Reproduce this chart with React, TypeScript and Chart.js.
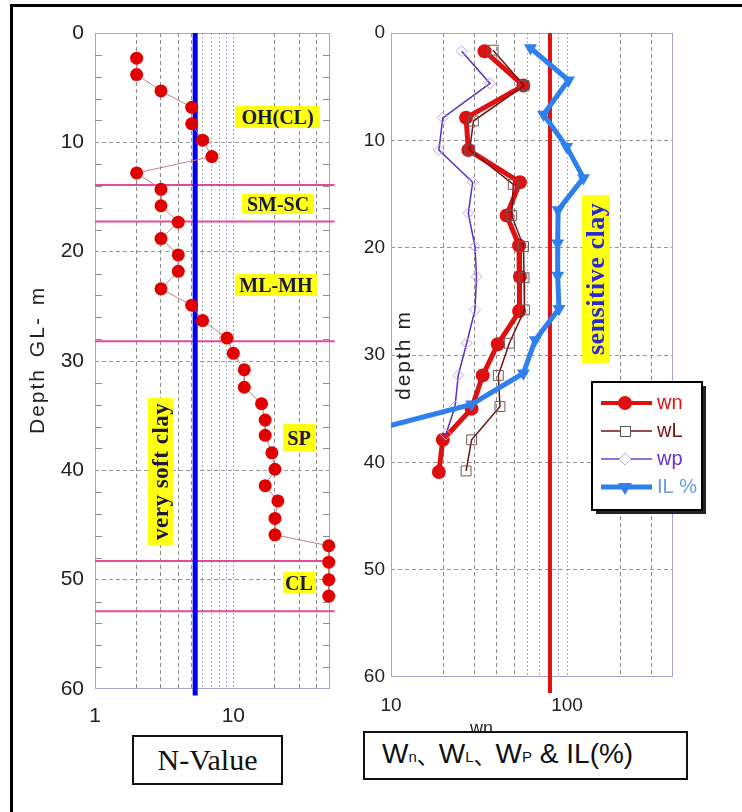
import React, { useEffect, useRef } from 'react';
import { Chart, registerables } from 'chart.js';

Chart.register(...registerables);

// ---------- Left chart: N-Value ----------
const nDepth = [2.3, 3.8, 5.3, 6.8, 8.3, 9.8, 11.3, 12.8, 14.3, 15.8, 17.3, 18.8, 20.3, 21.8, 23.4, 24.9, 26.3, 27.9, 29.3, 30.8, 32.4, 33.9, 35.4, 36.8, 38.4, 39.9, 41.4, 42.8, 44.4, 45.9, 46.9, 48.4, 50.0, 51.5];
const nValue = [2, 2, 3, 5, 5, 6, 7, 2, 3, 3, 4, 3, 4, 4, 3, 5, 6, 9, 10, 12, 12, 16, 17, 17, 19, 20, 17, 21, 20, 20, 49, 49, 49, 49];
const nLimit = 5.3;
const layerBoundaries = [13.9, 17.25, 28.2, 48.3, 52.9];
const boundaryExtent = [1, 54];
const nTicks = [1, 2, 3, 4, 5, 6, 7, 8, 9, 10, 20, 30, 40, 50];
const nTickLabels = [1, 10];
const nLightTicks = [6, 7, 8, 9, 10];
const depthMinorTicks = [2, 4, 6, 8, 12, 14, 16, 18, 22, 24, 26, 28, 32, 34, 36, 38, 42, 44, 46, 48, 52, 54, 56, 58];

// ---------- Right chart: Wn, WL, WP, IL ----------
const wnDepth = [1.7, 4.9, 7.9, 10.9, 13.9, 17.0, 19.8, 22.7, 25.9, 29.0, 31.9, 35.0, 37.9, 40.9];
const wnValue = [34, 56.5, 26.7, 27.5, 54, 45.4, 53.4, 54, 53.4, 40.4, 33.2, 28.7, 19.7, 18.7];
const wLDepth = [1.6, 4.9, 8.2, 10.9, 14.1, 17.0, 19.9, 22.8, 25.8, 28.9, 31.9, 34.8, 37.9, 40.8];
const wLValue = [38, 57, 29.4, 28, 49.5, 48.5, 56.6, 57, 57.3, 47, 40.7, 41.6, 28.7, 26.7];
const wpDepth = [1.7, 4.7, 7.9, 10.9, 13.9, 16.8, 19.9, 22.7, 25.8, 28.9, 31.9, 34.8, 37.4];
const wpValue = [25.2, 36.5, 19.7, 18.7, 29.1, 27.5, 30, 30.6, 30, 26.9, 24.1, 23.1, 20.5];
const ilDepth = [1.4, 4.4, 7.6, 10.6, 13.5, 16.5, 19.6, 22.6, 25.7, 28.6, 31.7, 34.6, 37.7];
const ilValue = [62, 102, 73.5, 99.5, 124, 89, 88.5, 88.5, 90, 66, 56.5, 28.7, 5.4];
const wLimit = 80;
const wTicks = [10, 20, 30, 40, 50, 60, 70, 80, 90, 100, 200, 300, 400];
const wTickLabels = [10, 100];
const wLightTicks = [60, 70, 80, 90, 100];
const legendLabels = ['wn', 'wL', 'wp', 'IL %'];

const SANS = '"Liberation Sans", Arial, sans-serif';
const SERIF = '"Liberation Serif", "Times New Roman", serif';

const pts = (xs: number[], ys: number[]) => ys.map((y, i) => ({ x: xs[i], y }));

function framePlugin(minor: number[] | null) {
  return {
    id: 'frame',
    beforeDatasetsDraw(chart: any) {
      const { ctx, chartArea: a, scales } = chart;
      ctx.save();
      ctx.strokeStyle = '#a4a4cc';
      ctx.lineWidth = 1;
      ctx.strokeRect(a.left + 0.5, a.top + 0.5, a.right - a.left - 1, a.bottom - a.top - 1);
      if (minor) {
        ctx.strokeStyle = '#8a8a9a';
        minor.forEach((d) => {
          const y = Math.round(scales.y.getPixelForValue(d)) + 0.5;
          ctx.beginPath();
          ctx.moveTo(a.left, y);
          ctx.lineTo(a.left + 7, y);
          ctx.moveTo(a.right - 7, y);
          ctx.lineTo(a.right, y);
          ctx.stroke();
        });
      }
      ctx.restore();
    },
  };
}

const legendPlugin = {
  id: 'customLegend',
  afterDraw(chart: any) {
    const { ctx } = chart;
    const bx = 232, by = 382, bw = 110, bh = 128;
    ctx.save();
    ctx.fillStyle = '#222';
    ctx.fillRect(bx + 4, by + 4, bw, bh);
    ctx.fillStyle = '#fff';
    ctx.fillRect(bx, by, bw, bh);
    ctx.strokeStyle = '#000';
    ctx.lineWidth = 2;
    ctx.strokeRect(bx, by, bw, bh);
    const rows = [403, 431, 459, 487];
    const x0 = 241, x1 = 292, mx = 265, tx = 297;
    const styles = [
      { line: '#dd1111', lw: 4, text: '#dd1111' },
      { line: '#7a1010', lw: 1.5, text: '#7a1010' },
      { line: '#6a40d0', lw: 1.5, text: '#6a30d0' },
      { line: '#2f80ed', lw: 5, text: '#6a9ae6' },
    ];
    rows.forEach((y, i) => {
      const s = styles[i];
      ctx.strokeStyle = s.line;
      ctx.lineWidth = s.lw;
      ctx.beginPath();
      ctx.moveTo(x0, y);
      ctx.lineTo(x1, y);
      ctx.stroke();
      ctx.lineWidth = 1;
      if (i === 0) {
        ctx.fillStyle = '#dd1111';
        ctx.beginPath();
        ctx.arc(mx, y, 7, 0, Math.PI * 2);
        ctx.fill();
      } else if (i === 1) {
        ctx.fillStyle = '#fff';
        ctx.fillRect(mx - 5, y - 5, 10, 10);
        ctx.strokeStyle = '#555';
        ctx.strokeRect(mx - 5 + 0.5, y - 5 + 0.5, 10, 10);
      } else if (i === 2) {
        ctx.fillStyle = '#fff';
        ctx.strokeStyle = '#b8a8ee';
        ctx.beginPath();
        ctx.moveTo(mx, y - 6);
        ctx.lineTo(mx + 6, y);
        ctx.lineTo(mx, y + 6);
        ctx.lineTo(mx - 6, y);
        ctx.closePath();
        ctx.fill();
        ctx.stroke();
      } else {
        ctx.fillStyle = '#2f80ed';
        ctx.beginPath();
        ctx.moveTo(mx - 7, y - 4);
        ctx.lineTo(mx + 7, y - 4);
        ctx.lineTo(mx, y + 8);
        ctx.closePath();
        ctx.fill();
      }
      ctx.fillStyle = s.text;
      ctx.font = `20px ${SANS}`;
      ctx.textBaseline = 'middle';
      ctx.textAlign = 'left';
      ctx.fillText(legendLabels[i], tx, y);
    });
    ctx.restore();
  },
};

function leftConfig(): any {
  return {
    type: 'scatter',
    data: {
      datasets: [
        {
          label: 'N-Value',
          data: pts(nValue, nDepth),
          showLine: true,
          borderColor: '#c98080',
          borderWidth: 1,
          pointRadius: 6.5,
          pointBackgroundColor: '#e00000',
          pointBorderColor: '#e00000',
          pointBorderWidth: 0,
          clip: false,
          order: 0,
        },
        {
          label: 'limit',
          data: [{ x: nLimit, y: 0 }, { x: nLimit, y: 60.6 }],
          showLine: true,
          borderColor: '#0000ee',
          borderWidth: 5,
          pointRadius: 0,
          clip: false,
          order: 1,
        },
        ...layerBoundaries.map((d) => ({
          label: 'boundary',
          data: [{ x: boundaryExtent[0], y: d }, { x: boundaryExtent[1], y: d }],
          showLine: true,
          borderColor: '#e6489a',
          borderWidth: 2,
          pointRadius: 0,
          clip: false,
          order: 2,
        })),
      ],
    },
    options: {
      responsive: false,
      animation: false,
      events: [],
      layout: { padding: { top: 33, right: 30, left: 0, bottom: 0 } },
      plugins: { legend: { display: false }, tooltip: { enabled: false } },
      scales: {
        x: {
          type: 'logarithmic',
          min: 1,
          max: 50,
          afterBuildTicks: (s: any) => { s.ticks = nTicks.map((v) => ({ value: v })); },
          afterFit: (s: any) => { s.height = 51; },
          ticks: {
            autoSkip: false,
            maxRotation: 0,
            padding: 15,
            color: '#222',
            font: { family: SANS, size: 21 },
            callback: (v: any) => (nTickLabels.includes(Number(v)) ? String(v) : ''),
          },
          grid: {
            drawTicks: false,
            lineWidth: 1,
            color: (c: any) => {
              const v = c.tick ? c.tick.value : 0;
              if (v === 1 || v === 50) return 'rgba(0,0,0,0)';
              return nLightTicks.includes(v) ? '#a8a8c8' : '#8a8a8a';
            },
          },
          border: {
            display: false,
            dash: (c: any) => (c.tick && nLightTicks.includes(c.tick.value) ? [2, 2] : [4, 3]),
          },
        },
        y: {
          type: 'linear',
          reverse: true,
          min: 0,
          max: 60,
          afterFit: (s: any) => { s.width = 95; },
          ticks: { stepSize: 10, padding: 11, color: '#222', font: { family: SANS, size: 21 } },
          grid: {
            drawTicks: false,
            color: (c: any) => {
              const v = c.tick ? c.tick.value : 0;
              return v === 0 || v === 60 ? 'rgba(0,0,0,0)' : '#9a9a9a';
            },
          },
          border: { display: false, dash: [4, 3] },
        },
      },
    },
    plugins: [framePlugin(depthMinorTicks)],
  };
}

function rightConfig(): any {
  return {
    type: 'scatter',
    data: {
      datasets: [
        {
          label: 'IL %',
          data: pts(ilValue, ilDepth),
          showLine: true,
          borderColor: '#2f80ed',
          borderWidth: 5,
          pointStyle: 'triangle',
          pointRotation: 180,
          pointRadius: 7.5,
          pointBackgroundColor: '#2f80ed',
          pointBorderColor: '#2f80ed',
          pointBorderWidth: 0,
          order: 0,
        },
        {
          label: 'limit',
          data: [{ x: wLimit, y: 0 }, { x: wLimit, y: 61.5 }],
          showLine: true,
          borderColor: '#e01010',
          borderWidth: 4,
          pointRadius: 0,
          clip: false,
          order: 1,
        },
        {
          label: 'wL',
          data: pts(wLValue, wLDepth),
          showLine: true,
          borderColor: '#7a1010',
          borderWidth: 1.5,
          pointStyle: 'rect',
          pointRadius: 7,
          pointBackgroundColor: 'rgba(0,0,0,0)',
          pointBorderColor: '#6a5a5a',
          pointBorderWidth: 1,
          order: 2,
        },
        {
          label: 'wp',
          data: pts(wpValue, wpDepth),
          showLine: true,
          borderColor: '#5a30c0',
          borderWidth: 1.5,
          pointStyle: 'rectRot',
          pointRadius: 5.5,
          pointBackgroundColor: 'rgba(0,0,0,0)',
          pointBorderColor: '#b8a8ee',
          pointBorderWidth: 1,
          order: 3,
        },
        {
          label: 'wn',
          data: pts(wnValue, wnDepth),
          showLine: true,
          borderColor: '#dd1111',
          borderWidth: 5,
          pointRadius: 7,
          pointBackgroundColor: '#dd1111',
          pointBorderColor: '#dd1111',
          pointBorderWidth: 0,
          order: 4,
        },
      ],
    },
    options: {
      responsive: false,
      animation: false,
      events: [],
      layout: { padding: { top: 33, right: 69, left: 0, bottom: 0 } },
      plugins: { legend: { display: false }, tooltip: { enabled: false } },
      scales: {
        x: {
          type: 'logarithmic',
          min: 10,
          max: 400,
          afterBuildTicks: (s: any) => { s.ticks = wTicks.map((v) => ({ value: v })); },
          afterFit: (s: any) => { s.height = 63; },
          ticks: {
            autoSkip: false,
            maxRotation: 0,
            padding: 17,
            color: '#222',
            font: { family: SANS, size: 19 },
            callback: (v: any) => (wTickLabels.includes(Number(v)) ? String(v) : ''),
          },
          grid: {
            drawTicks: false,
            lineWidth: 1,
            color: (c: any) => {
              const v = c.tick ? c.tick.value : 0;
              if (v === 10 || v === 400) return 'rgba(0,0,0,0)';
              return wLightTicks.includes(v) ? '#a8a8d0' : '#8a8a8a';
            },
          },
          border: {
            display: false,
            dash: (c: any) => (c.tick && wLightTicks.includes(c.tick.value) ? [2, 2] : [4, 3]),
          },
        },
        y: {
          type: 'linear',
          reverse: true,
          min: 0,
          max: 60,
          afterFit: (s: any) => { s.width = 31; },
          ticks: { stepSize: 10, padding: 6, color: '#222', font: { family: SANS, size: 19 } },
          grid: {
            drawTicks: false,
            color: (c: any) => {
              const v = c.tick ? c.tick.value : 0;
              return v === 0 || v === 60 ? 'rgba(0,0,0,0)' : '#9a9a9a';
            },
          },
          border: { display: false, dash: [4, 3] },
        },
      },
    },
    plugins: [framePlugin(null), legendPlugin],
  };
}

const abs = (left: number, top: number, width: number, height: number): React.CSSProperties => ({
  position: 'absolute', left, top, width, height,
});

function Tag(props: { l: number; t: number; w: number; h: number; text: string; vertical?: boolean; size?: number; color?: string; spacing?: number }) {
  const { l, t, w, h, text, vertical, size = 20, color = '#1a1a38', spacing = 0 } = props;
  return (
    <div
      style={{
        ...abs(l, t, w, h),
        background: '#ffff10',
        display: 'flex',
        alignItems: 'center',
        justifyContent: 'center',
        font: `bold ${size}px ${SERIF}`,
        letterSpacing: spacing,
        color,
        whiteSpace: 'nowrap',
        overflow: 'hidden',
        writingMode: vertical ? 'vertical-rl' : undefined,
        transform: vertical ? 'rotate(180deg)' : undefined,
        lineHeight: 1,
      }}
    >
      {text}
    </div>
  );
}

export default function App() {
  const leftRef = useRef<HTMLCanvasElement>(null);
  const rightRef = useRef<HTMLCanvasElement>(null);

  useEffect(() => {
    const c1 = new Chart(leftRef.current as HTMLCanvasElement, leftConfig());
    const c2 = new Chart(rightRef.current as HTMLCanvasElement, rightConfig());
    return () => {
      c1.destroy();
      c2.destroy();
    };
  }, []);

  const sub: React.CSSProperties = { fontSize: 15, position: 'relative', top: 3 };
  const jp: React.CSSProperties = { fontFamily: '"Noto Sans CJK JP", sans-serif', fontSize: 22 };

  return (
    <div style={{ position: 'absolute', left: 0, top: 0, width: 742, height: 812, background: '#fff', overflow: 'hidden' }}>
      <canvas ref={leftRef} width={360} height={740} style={{ position: 'absolute', left: 0, top: 0, width: 360, height: 740 }} />
      <canvas ref={rightRef} width={382} height={740} style={{ position: 'absolute', left: 360, top: 0, width: 382, height: 740 }} />

      {/* outer frame */}
      <div style={{ ...abs(10, 4, 732, 3), background: '#000' }} />
      <div style={{ ...abs(10, 4, 3, 808), background: '#000' }} />

      {/* axis titles */}
      <div
        style={{
          ...abs(25, 280, 24, 160),
          writingMode: 'vertical-rl',
          transform: 'rotate(180deg)',
          display: 'flex', alignItems: 'center', justifyContent: 'center',
          font: `21px ${SANS}`, letterSpacing: 2, wordSpacing: 3, color: '#222', whiteSpace: 'nowrap',
        }}
      >
        Depth GL- m
      </div>
      <div
        style={{
          ...abs(391, 300, 24, 110),
          writingMode: 'vertical-rl',
          transform: 'rotate(180deg)',
          display: 'flex', alignItems: 'center', justifyContent: 'center',
          font: `21px ${SANS}`, letterSpacing: 2, color: '#222', whiteSpace: 'nowrap',
        }}
      >
        depth m
      </div>

      {/* soil layer tags */}
      <Tag l={235} t={106} w={85} h={22} text="OH(CL)" />
      <Tag l={242} t={194} w={72} h={20} text="SM-SC" />
      <Tag l={235} t={274} w={82} h={22} text="ML-MH" />
      <Tag l={283} t={424} w={32} h={27} text="SP" />
      <Tag l={283} t={572} w={32} h={21} text="CL" />
      <Tag l={148} t={398} w={25} h={147} text="very soft clay" vertical size={23} spacing={0.5} />
      <Tag l={582} t={195} w={28} h={168} text="sensitive clay" vertical size={26} spacing={0.5} color="#2a2ad0" />

      {/* partially hidden x-axis title */}
      <div style={{ position: 'absolute', left: 470, top: 718, font: `18px ${SANS}`, color: '#222' }}>wn</div>

      {/* bottom boxes */}
      <div
        style={{
          ...abs(132, 735, 151, 50), boxSizing: 'border-box', border: '2px solid #111', background: '#fff',
          display: 'flex', alignItems: 'center', justifyContent: 'center', font: `30px ${SERIF}`, color: '#111',
        }}
      >
        N-Value
      </div>
      <div
        style={{
          ...abs(363, 731, 325, 49), boxSizing: 'border-box', border: '2px solid #111', background: '#fff',
          display: 'flex', alignItems: 'center', paddingLeft: 17, paddingBottom: 4, font: `28px ${SANS}`, color: '#111', whiteSpace: 'pre',
        }}
      >
        W<span style={sub}>n</span><span style={jp}>、</span>W<span style={sub}>L</span><span style={jp}>、</span>W<span style={sub}>P</span>{' & IL(%)'}
      </div>
    </div>
  );
}
